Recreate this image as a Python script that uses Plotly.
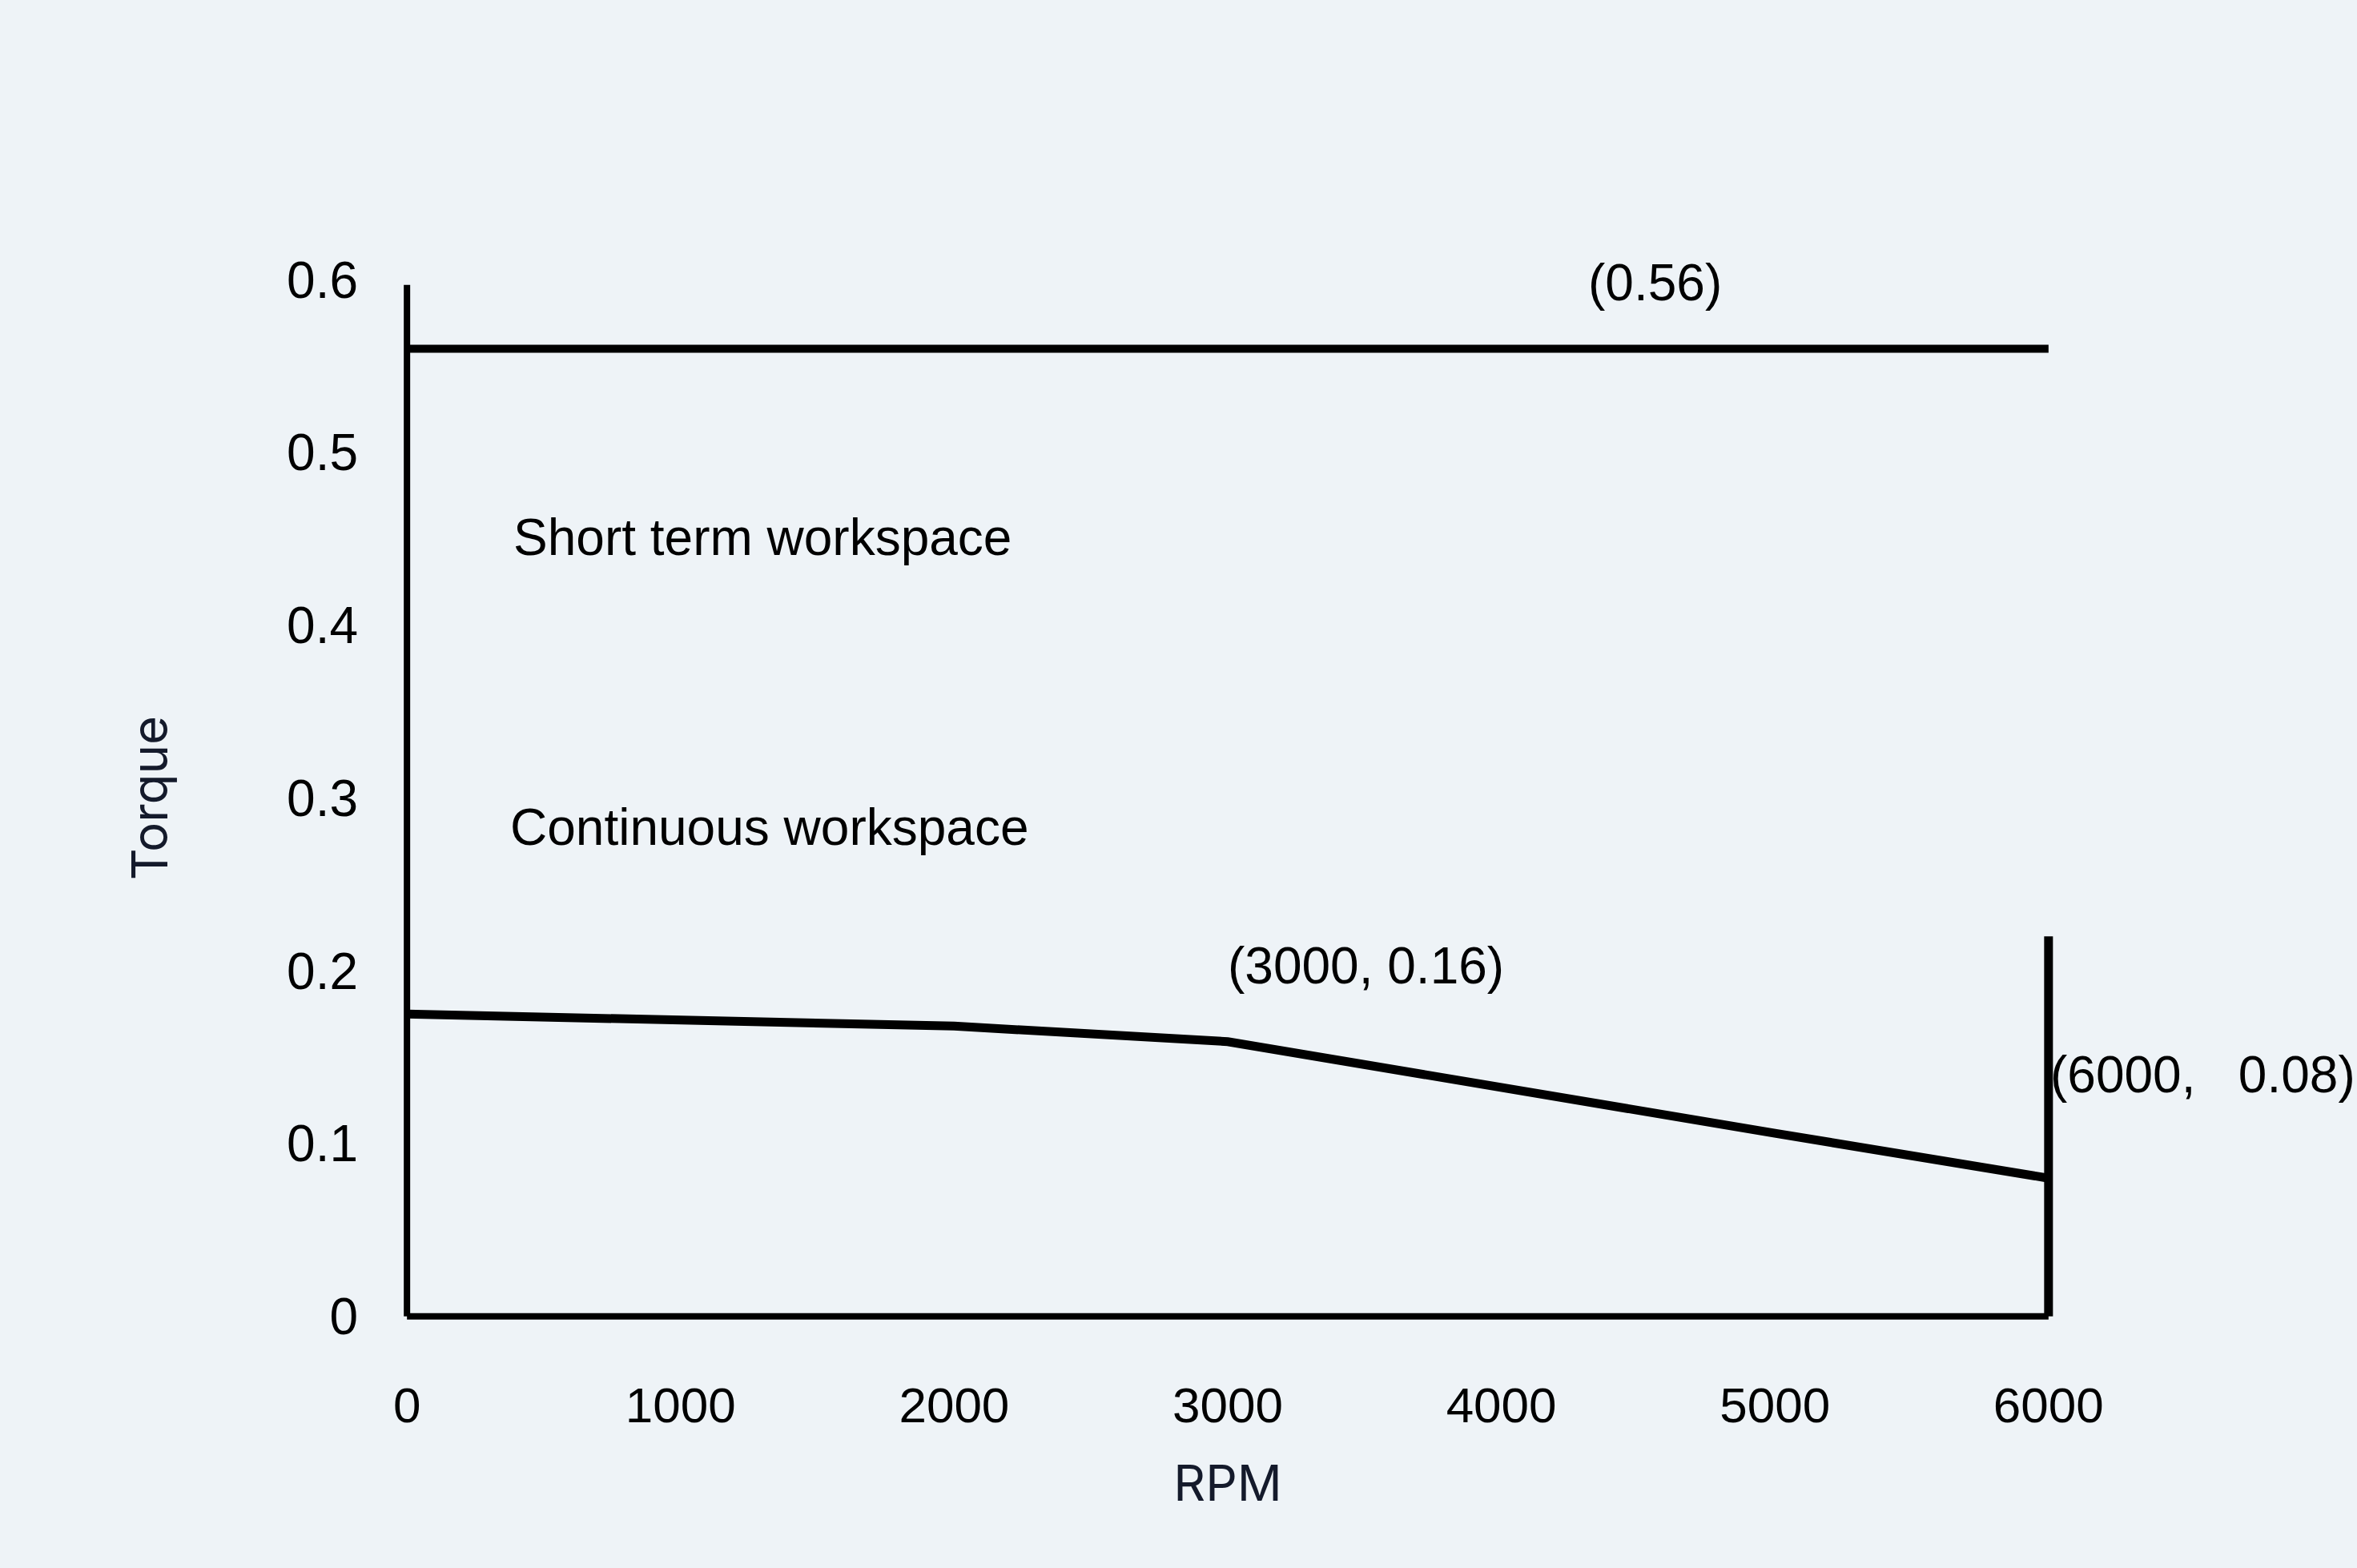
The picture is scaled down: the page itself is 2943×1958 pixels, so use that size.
import plotly.graph_objects as go

# ---- data ----
rpm = [0, 1000, 2000, 3000, 4000, 5000, 6000]
continuous_torque = [0.175, 0.172, 0.168, 0.159, 0.132, 0.106, 0.08]
short_term_rpm = [0, 6000]
short_term_torque = [0.56, 0.56]
left_edge_rpm = [0, 0]
left_edge_torque = [0, 0.597]
right_edge_rpm = [6000, 6000]
right_edge_torque = [0, 0.22]
base_rpm = [0, 6000]
base_torque = [0, 0]

x_ticks = [0, 1000, 2000, 3000, 4000, 5000, 6000]
x_tick_text = ["0", "1000", "2000", "3000", "4000", "5000", "6000"]
y_ticks = [0, 0.1, 0.2, 0.3, 0.4, 0.5, 0.6]
y_tick_text = ["0", "0.1", "0.2", "0.3", "0.4", "0.5", "0.6"]

labels = [
    dict(text="Short term workspace", x=1298, y=0.451, xanchor="center"),
    dict(text="Continuous workspace", x=1324, y=0.283, xanchor="center"),
    dict(text="(0.56)", x=4561, y=0.598, xanchor="center"),
    dict(text="(3000, 0.16)", x=3504, y=0.203, xanchor="center"),
    dict(text="(6000,\u00a0\u00a0 0.08)", x=6000, y=0.14, xanchor="left"),
]

FONT = "Liberation Sans, Arial, sans-serif"
BG = "#eef3f7"

fig = go.Figure()

def add_line(xs, ys, w):
    fig.add_trace(go.Scatter(x=xs, y=ys, mode="lines",
                             line=dict(color="black", width=w),
                             showlegend=False, hoverinfo="skip"))

add_line(base_rpm, base_torque, 8)
add_line(left_edge_rpm, left_edge_torque, 8)
add_line(right_edge_rpm, right_edge_torque, 11)
add_line(short_term_rpm, short_term_torque, 10)
add_line(rpm, continuous_torque, 11)

for lab in labels:
    fig.add_annotation(x=lab["x"], y=lab["y"], text=lab["text"],
                       xanchor=lab["xanchor"], yanchor="middle",
                       showarrow=False,
                       font=dict(family=FONT, size=64, color="black"))

fig.update_layout(
    width=2943, height=1958,
    paper_bgcolor=BG, plot_bgcolor=BG,
    margin=dict(l=474, r=351, t=306, b=271, autoexpand=False),
    showlegend=False,
)
fig.update_xaxes(
    range=[-100, 6100], showgrid=False, zeroline=False, showline=False,
    tickmode="array", tickvals=x_ticks, ticktext=x_tick_text,
    ticks="", ticklabelstandoff=26,
    tickfont=dict(family=FONT, size=62, color="black"),
    title=dict(text="RPM", standoff=42,
               font=dict(family="Inter, Roboto, sans-serif", size=62, color="#141a2b")),
)
fig.update_yaxes(
    range=[-0.02, 0.62], showgrid=False, zeroline=False, showline=False,
    tickmode="array", tickvals=y_ticks, ticktext=y_tick_text,
    ticks="", ticklabelstandoff=26,
    tickfont=dict(family=FONT, size=64, color="black"),
    title=dict(text="Torque", standoff=128,
               font=dict(family="Inter, Roboto, sans-serif", size=62, color="#141a2b")),
)

fig.write_html("out.html")
